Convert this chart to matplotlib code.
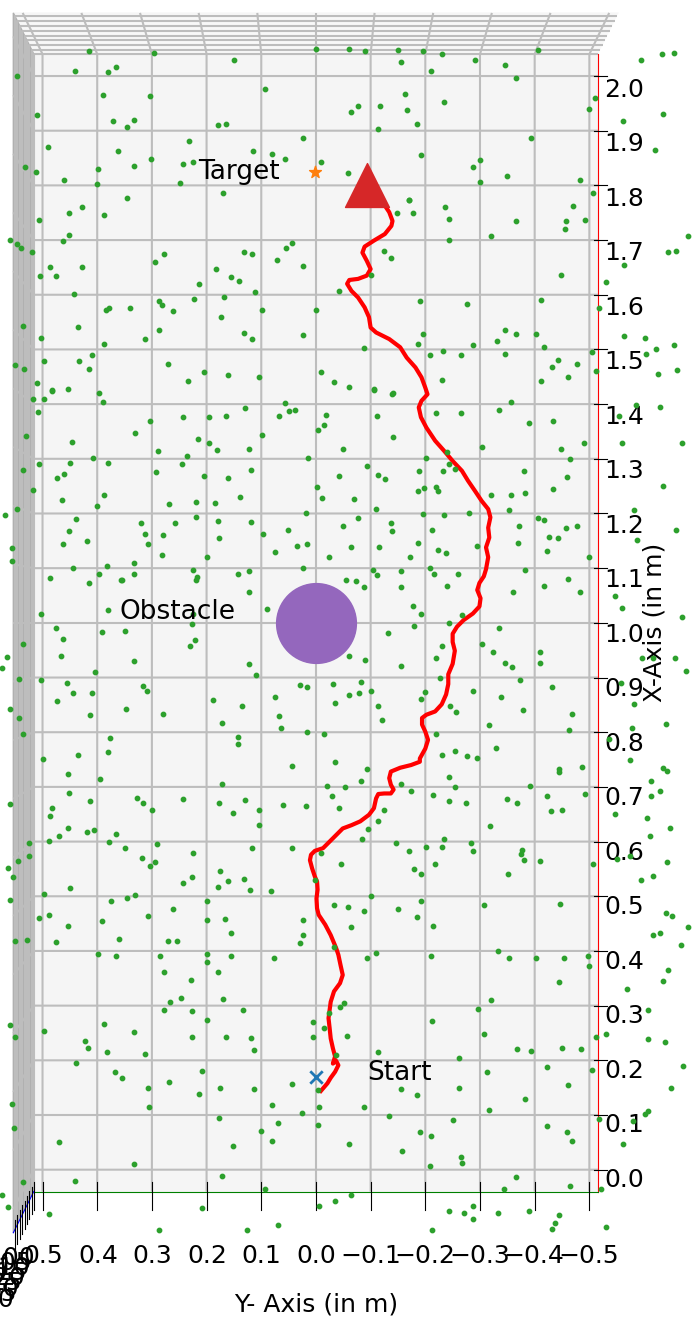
import numpy as np
import matplotlib.pyplot as plt

# robot path (x = forward, y = lateral, in m)
path_x = [0.144, 0.158, 0.168, 0.179, 0.191, 0.199, 0.194, 0.207, 0.222, 0.24, 0.259, 0.277, 0.292,
          0.307, 0.326, 0.341, 0.356, 0.374, 0.393, 0.405, 0.429, 0.448, 0.466, 0.478, 0.496, 0.512,
          0.527, 0.536, 0.551, 0.566, 0.576, 0.583, 0.588, 0.6, 0.612, 0.624, 0.63, 0.637, 0.649,
          0.661, 0.679, 0.687, 0.688, 0.688, 0.695, 0.704, 0.716, 0.728, 0.735, 0.74, 0.746, 0.752,
          0.77, 0.786, 0.801, 0.814, 0.826, 0.832, 0.838, 0.851, 0.869, 0.888, 0.906, 0.925, 0.949,
          0.965, 0.98, 0.993, 1.005, 1.017, 1.03, 1.045, 1.06, 1.073, 1.085, 1.098, 1.12, 1.138,
          1.156, 1.174, 1.193, 1.208, 1.223, 1.241, 1.26, 1.278, 1.296, 1.315, 1.333, 1.357, 1.376,
          1.394, 1.406, 1.418, 1.43, 1.449, 1.467, 1.485, 1.504, 1.519, 1.531, 1.54, 1.559, 1.577,
          1.595, 1.607, 1.62, 1.627, 1.629, 1.635, 1.647, 1.662, 1.677, 1.688, 1.699, 1.711, 1.726,
          1.735, 1.751, 1.763, 1.775]
path_y = [-0.009, -0.021, -0.027, -0.035, -0.041, -0.037, -0.031, -0.035, -0.031, -0.027, -0.025,
          -0.023, -0.025, -0.027, -0.033, -0.044, -0.049, -0.045, -0.041, -0.037, -0.027, -0.017,
          -0.005, -0.002, -0.001, -0.003, -0.002, 0.002, 0.007, 0.011, 0.009, 0.002, -0.013, -0.025,
          -0.037, -0.049, -0.065, -0.081, -0.097, -0.106, -0.11, -0.114, -0.125, -0.137, -0.142,
          -0.137, -0.134, -0.137, -0.154, -0.174, -0.19, -0.19, -0.2, -0.205, -0.2, -0.194, -0.194,
          -0.202, -0.218, -0.23, -0.238, -0.242, -0.242, -0.25, -0.254, -0.25, -0.25, -0.258, -0.27,
          -0.287, -0.299, -0.301, -0.295, -0.299, -0.307, -0.311, -0.315, -0.311, -0.317, -0.315,
          -0.319, -0.315, -0.303, -0.291, -0.278, -0.267, -0.25, -0.234, -0.218, -0.202, -0.192,
          -0.188, -0.193, -0.204, -0.2, -0.193, -0.182, -0.166, -0.154, -0.134, -0.11, -0.1, -0.097,
          -0.089, -0.077, -0.065, -0.057, -0.061, -0.077, -0.093, -0.1, -0.093, -0.085, -0.089,
          -0.106, -0.126, -0.138, -0.14, -0.134, -0.126, -0.12]

start = (0.17, 0.0)
target = (1.824, 0.002)
goal = (1.80, -0.093)
obstacle = (1.0, 0.0)

# scattered particles (x, y), grouped by band of the map
dots_top = [(2.046, 0.415), (2.042, 0.297), (2.03, 0.15), (2.05, 0.0), (2.05, -0.06), (2.045, -0.09),
            (2.047, -0.15), (2.045, -0.195), (2.04, -0.23), (2.025, -0.156), (2.03, -0.29),
            (2.02, -0.346), (2.047, -0.406), (2.01, -0.21), (1.997, -0.366), (2.03, -0.595),
            (2.04, -0.633), (2.042, -0.655), (2.0, 0.547), (2.01, 0.44), (2.007, 0.38), (2.016, 0.365),
            (1.965, 0.39), (1.963, 0.304), (1.976, 0.093), (1.967, -0.163), (1.945, -0.076),
            (1.934, -0.064), (1.945, -0.118), (1.938, -0.167), (1.952, -0.234), (1.94, -0.5),
            (1.96, -0.51), (1.93, -0.634), (1.918, -0.562), (1.929, 0.51), (1.917, 0.371),
            (1.92, 0.333), (1.907, 0.346), (1.911, 0.179), (1.912, 0.165), (1.904, -0.114),
            (1.913, -0.184), (1.887, 0.023), (1.887, -0.393), (1.882, 0.232), (1.87, 0.49),
            (1.863, 0.362), (1.863, 0.116), (1.858, 0.08), (1.849, 0.056), (1.849, 0.302),
            (1.835, 0.332), (1.839, 0.244), (1.842, 0.224), (1.855, -0.192), (1.846, -0.3),
            (1.834, -0.288), (1.864, -0.62), (1.833, 0.532), (1.824, 0.512), (1.83, 0.398),
            (1.81, 0.46), (1.802, 0.4), (1.804, 0.249), (1.786, 0.17), (1.843, -0.01), (1.823, -0.058),
            (1.818, -0.35), (1.806, -0.3), (1.81, -0.482), (1.774, -0.17), (1.786, -0.507),
            (1.777, 0.345), (1.824, 0.002)]
dots_upper = [(1.749, 0.452), (1.761, 0.428), (1.745, 0.388), (1.737, 0.507), (1.709, 0.452),
              (1.698, 0.463), (1.7, 0.56), (1.693, 0.546), (1.685, 0.54), (1.679, 0.52), (1.749, -0.148),
              (1.749, -0.177), (1.773, -0.171), (1.76, -0.236), (1.739, -0.243), (1.734, -0.366),
              (1.735, -0.457), (1.763, -0.47), (1.72, -0.455), (1.737, -0.492), (1.708, -0.32),
              (1.701, -0.243), (1.707, -0.68), (1.679, -0.643), (1.68, -0.658), (1.655, -0.563),
              (1.68, -0.124), (1.668, -0.138), (1.636, -0.1), (1.695, 0.043), (1.685, 0.054),
              (1.663, 0.072), (1.652, 0.024), (1.679, 0.131), (1.674, 0.117), (1.648, 0.183),
              (1.632, 0.156), (1.625, 0.141), (1.619, 0.213), (1.675, 0.278), (1.659, 0.294),
              (1.65, 0.428), (1.65, 0.487), (1.634, 0.475), (1.634, 0.504), (1.601, 0.443),
              (1.605, 0.112), (1.595, 0.169), (1.592, 0.223), (1.606, -0.043), (1.636, -0.448),
              (1.624, -0.53), (1.59, -0.412), (1.588, -0.19), (1.583, -0.276), (1.588, 0.287),
              (1.582, 0.282), (1.57, 0.261), (1.576, 0.379), (1.573, 0.384), (1.576, 0.34),
              (1.573, 0.098), (1.572, 0.0), (1.559, 0.173), (1.576, -0.517), (1.543, 0.536),
              (1.541, 0.435), (1.536, 0.287), (1.519, 0.312), (1.53, 0.131), (1.519, 0.117),
              (1.526, 0.024), (1.52, 0.502), (1.51, 0.387), (1.529, -0.195), (1.51, -0.187),
              (1.502, -0.088), (1.535, -0.345), (1.529, -0.366), (1.516, -0.332), (1.528, -0.402),
              (1.505, -0.417), (1.508, -0.288), (1.524, -0.563), (1.52, -0.602), (1.508, -0.655),
              (1.501, -0.622), (1.495, -0.504), (1.492, -0.603), (1.49, -0.208), (1.498, -0.232),
              (1.49, -0.265), (1.492, -0.346), (1.49, 0.41), (1.479, 0.433), (1.478, 0.497),
              (1.465, 0.415), (1.474, 0.27), (1.471, 0.551), (1.464, 0.534), (1.459, 0.205),
              (1.454, 0.16), (1.449, 0.104), (1.459, -0.009), (1.48, -0.443), (1.467, -0.431),
              (1.474, -0.478), (1.449, -0.461), (1.461, -0.512), (1.455, -0.625), (1.463, -0.661),
              (1.445, -0.23), (1.442, -0.412), (1.441, -0.033), (1.432, -0.061), (1.426, -0.106),
              (1.42, -0.14), (1.443, 0.234), (1.427, 0.454), (1.426, 0.482), (1.438, 0.51)]
dots_mid_upper = [(1.424, 0.482), (1.409, 0.518), (1.409, 0.497), (1.42, 0.396), (1.403, 0.39),
                  (1.386, 0.508), (1.393, 0.13), (1.402, 0.057), (1.387, 0.05), (1.39, 0.039),
                  (1.379, 0.067), (1.381, -0.019), (1.427, -0.107), (1.418, -0.139), (1.379, -0.111),
                  (1.384, -0.22), (1.384, -0.265), (1.39, -0.334), (1.403, -0.357), (1.398, -0.585),
                  (1.395, -0.63), (1.379, -0.555), (1.365, -0.389), (1.369, -0.434), (1.329, -0.49),
                  (1.328, -0.56), (1.328, -0.67), (1.369, 0.304), (1.376, 0.244), (1.376, 0.195),
                  (1.379, 0.164), (1.362, -0.014), (1.353, -0.003), (1.344, 0.099), (1.348, 0.33),
                  (1.33, 0.446), (1.342, 0.531), (1.337, 0.216), (1.329, 0.196), (1.316, 0.181),
                  (1.315, 0.289), (1.318, 0.122), (1.318, -0.05), (1.34, -0.14), (1.321, -0.303),
                  (1.318, -0.448), (1.313, -0.24), (1.306, 0.235), (1.302, 0.408), (1.301, 0.015),
                  (1.301, -0.202), (1.29, 0.506), (1.292, 0.45), (1.292, 0.38), (1.29, 0.245),
                  (1.3, -0.464), (1.287, -0.093), (1.291, -0.244), (1.282, -0.254), (1.277, -0.233),
                  (1.278, -0.188), (1.279, 0.535), (1.272, 0.46), (1.265, 0.474), (1.276, 0.293),
                  (1.268, 0.205), (1.264, 0.16), (1.28, 0.119), (1.268, -0.043), (1.27, -0.114),
                  (1.263, -0.126), (1.277, -0.381), (1.266, -0.459), (1.251, -0.634), (1.243, 0.517),
                  (1.234, 0.387), (1.225, 0.464), (1.213, 0.4), (1.217, 0.268), (1.221, 0.22),
                  (1.219, 0.184), (1.231, 0.139), (1.248, -0.002), (1.228, -0.011), (1.226, -0.07),
                  (1.209, -0.109), (1.241, -0.187), (1.246, -0.198), (1.249, -0.219), (1.241, -0.224),
                  (1.234, -0.321), (1.234, -0.357), (1.238, -0.382), (1.244, -0.433), (1.207, -0.353),
                  (1.207, -0.582), (1.209, 0.547), (1.197, 0.568), (1.201, 0.019), (1.192, -0.076),
                  (1.199, -0.195), (1.198, -0.234), (1.2, -0.28), (1.189, 0.439), (1.182, 0.32),
                  (1.182, 0.258), (1.193, 0.22), (1.187, 0.18), (1.185, 0.118), (1.17, 0.052),
                  (1.177, -0.049), (1.183, -0.137), (1.168, -0.139), (1.17, -0.213), (1.177, -0.371),
                  (1.192, -0.406), (1.188, -0.417), (1.173, -0.457), (1.177, -0.477), (1.169, -0.658),
                  (1.168, 0.451), (1.163, 0.312), (1.16, 0.279), (1.155, 0.177), (1.162, 0.097),
                  (1.157, -0.427), (1.155, -0.442), (1.151, -0.588), (1.145, 0.462), (1.149, 0.418),
                  (1.144, 0.307), (1.141, 0.034), (1.145, 0.017), (1.139, -0.064), (1.146, -0.187),
                  (1.134, -0.223), (1.141, -0.294), (1.146, -0.37), (1.132, -0.422), (1.138, -0.115),
                  (1.136, 0.556), (1.124, 0.281), (1.121, 0.2), (1.129, 0.075), (1.121, -0.023),
                  (1.12, -0.172), (1.127, -0.238), (1.12, -0.5), (1.114, 0.555), (1.11, 0.333),
                  (1.101, 0.445), (1.104, 0.383), (1.09, 0.396), (1.09, 0.332), (1.096, 0.225),
                  (1.084, 0.218), (1.09, 0.143), (1.095, 0.122), (1.101, 0.023), (1.097, -0.104),
                  (1.087, -0.112), (1.095, -0.156), (1.101, -0.209), (1.089, -0.216), (1.09, -0.259),
                  (1.096, -0.382), (1.081, -0.461), (1.079, 0.357), (1.082, 0.486)]
dots_mid = [(1.073, 0.415), (1.078, 0.355), (1.079, 0.22), (1.056, 0.123), (1.078, -0.055),
            (1.077, -0.074), (1.065, -0.087), (1.065, -0.156), (1.067, -0.24), (1.057, -0.36),
            (1.068, -0.417), (1.056, -0.483), (1.05, -0.546), (1.027, -0.559), (1.01, -0.67),
            (1.017, 0.502), (1.023, 0.38), (1.025, 0.089), (1.03, -0.177), (1.017, -0.192),
            (1.015, -0.268), (0.999, -0.243), (1.017, 0.224), (0.997, 0.226), (0.991, 0.475),
            (0.986, 0.35), (0.983, 0.392), (0.971, 0.463), (0.962, 0.536), (0.968, 0.221),
            (0.957, 0.23), (0.981, -0.132), (0.994, -0.179), (0.99, -0.334), (0.962, -0.304),
            (0.957, -0.231), (0.936, -0.22), (0.946, -0.323), (0.946, -0.409), (0.926, -0.409),
            (0.927, -0.345), (0.92, -0.359), (0.936, -0.596), (0.936, -0.617), (0.936, -0.657),
            (0.912, -0.677), (0.938, 0.565), (0.918, 0.575), (0.939, 0.466), (0.93, 0.333),
            (0.924, 0.123), (0.904, 0.11), (0.94, -0.06), (0.932, -0.09), (0.922, -0.156),
            (0.911, 0.404), (0.898, 0.543), (0.896, 0.503), (0.89, 0.455), (0.871, 0.445),
            (0.872, 0.41), (0.884, 0.317), (0.876, 0.309), (0.9, -0.226), (0.875, -0.288),
            (0.865, -0.339), (0.895, -0.374), (0.883, -0.431), (0.89, -0.558), (0.852, -0.581),
            (0.886, 0.03), (0.883, 0.016), (0.888, -0.032), (0.892, -0.083), (0.868, -0.061),
            (0.872, -0.079), (0.875, -0.1), (0.874, -0.199), (0.86, -0.192), (0.865, 0.074),
            (0.859, 0.188), (0.848, 0.135), (0.857, 0.474), (0.843, 0.56), (0.826, 0.543),
            (0.832, 0.413), (0.842, 0.348), (0.833, 0.279), (0.829, 0.067), (0.854, -0.035),
            (0.848, -0.113), (0.823, -0.121), (0.848, -0.246), (0.837, -0.256), (0.84, -0.378),
            (0.834, -0.468), (0.813, -0.317), (0.804, -0.463), (0.807, -0.578), (0.815, -0.641),
            (0.816, 0.171), (0.807, 0.063), (0.801, 0.016), (0.796, -0.014), (0.796, 0.536),
            (0.796, -0.219), (0.788, -0.536), (0.792, 0.143), (0.778, 0.142), (0.789, 0.376),
            (0.764, 0.381), (0.759, 0.435), (0.751, 0.5), (0.758, -0.231), (0.766, -0.255),
            (0.756, -0.277), (0.753, -0.295), (0.771, -0.329), (0.745, -0.034), (0.738, 0.043),
            (0.733, -0.093), (0.733, -0.445), (0.737, -0.486), (0.735, -0.634), (0.75, -0.575)]
dots_mid_lower = [(0.724, 0.454), (0.715, 0.395), (0.705, 0.171), (0.701, -0.021), (0.7, -0.053),
                  (0.71, -0.082), (0.705, -0.155), (0.719, -0.243), (0.699, -0.254), (0.701, -0.391),
                  (0.728, -0.445), (0.729, -0.642), (0.71, -0.612), (0.693, -0.63), (0.683, -0.613),
                  (0.651, -0.547), (0.643, -0.605), (0.624, -0.648), (0.611, -0.611), (0.563, -0.642),
                  (0.573, -0.574), (0.529, -0.594), (0.537, -0.616), (0.687, -0.492), (0.683, -0.422),
                  (0.656, -0.43), (0.658, -0.45), (0.678, -0.35), (0.67, -0.368), (0.629, -0.318),
                  (0.67, -0.275), (0.675, -0.243), (0.686, -0.214), (0.693, -0.174), (0.684, -0.029),
                  (0.661, -0.043), (0.658, -0.125), (0.638, -0.114), (0.623, -0.095), (0.605, -0.084),
                  (0.665, 0.019), (0.666, 0.061), (0.657, 0.104), (0.63, 0.105), (0.676, 0.13),
                  (0.653, 0.151), (0.67, 0.178), (0.677, 0.244), (0.658, 0.3), (0.67, 0.317),
                  (0.679, 0.327), (0.675, 0.413), (0.688, 0.452), (0.662, 0.482), (0.646, 0.487),
                  (0.669, 0.56), (0.624, 0.454), (0.611, 0.47), (0.617, 0.419), (0.621, 0.405),
                  (0.614, 0.366), (0.601, 0.489), (0.598, 0.524), (0.599, 0.379), (0.589, 0.35),
                  (0.596, 0.29), (0.579, 0.225), (0.588, 0.117), (0.588, 0.044), (0.58, -0.009),
                  (0.598, -0.147), (0.582, -0.17), (0.591, -0.202), (0.604, -0.234), (0.59, -0.231),
                  (0.597, -0.283), (0.582, -0.288), (0.585, -0.377), (0.577, -0.375), (0.566, -0.38),
                  (0.565, -0.409), (0.559, -0.506), (0.568, -0.55), (0.574, 0.524), (0.565, 0.544),
                  (0.552, 0.564), (0.535, 0.554), (0.57, 0.319), (0.563, 0.295), (0.556, 0.304),
                  (0.559, -0.046), (0.559, -0.218), (0.55, -0.179), (0.54, -0.192), (0.54, -0.352),
                  (0.547, 0.175), (0.535, 0.226), (0.525, 0.244), (0.528, 0.161), (0.532, 0.132),
                  (0.517, 0.18), (0.512, 0.12), (0.509, 0.082), (0.529, 0.002), (0.516, 0.449),
                  (0.504, 0.498), (0.493, 0.559), (0.491, 0.374), (0.496, 0.345), (0.503, 0.331),
                  (0.476, 0.261), (0.492, 0.2), (0.5, -0.1), (0.491, -0.193), (0.484, -0.033),
                  (0.48, -0.058), (0.473, -0.087), (0.476, -0.15), (0.462, -0.185), (0.484, -0.308),
                  (0.485, -0.446), (0.469, -0.64), (0.464, -0.652), (0.443, -0.68), (0.465, 0.488),
                  (0.46, 0.507), (0.455, 0.391), (0.464, 0.308), (0.457, 0.2), (0.458, 0.166),
                  (0.457, 0.023), (0.445, 0.453), (0.432, 0.155), (0.429, 0.024), (0.415, 0.029),
                  (0.443, -0.064), (0.446, -0.214), (0.429, -0.617), (0.432, -0.629), (0.411, -0.667),
                  (0.418, 0.55), (0.42, 0.529), (0.416, 0.475), (0.421, 0.361), (0.419, 0.27),
                  (0.419, 0.255), (0.407, -0.033), (0.397, -0.11), (0.4, -0.333), (0.394, 0.398),
                  (0.391, 0.366), (0.391, 0.285), (0.395, 0.2), (0.39, 0.156), (0.388, 0.076),
                  (0.388, -0.093), (0.391, -0.211), (0.387, -0.353), (0.387, -0.402), (0.387, -0.454),
                  (0.39, -0.497)]
dots_lower = [(0.362, 0.277), (0.361, 0.18), (0.379, 0.2), (0.346, 0.229), (0.373, -0.5),
              (0.366, -0.643), (0.345, -0.635), (0.33, -0.568), (0.344, -0.445), (0.31, -0.32),
              (0.314, 0.247), (0.307, 0.266), (0.313, 0.17), (0.292, 0.277), (0.29, 0.226),
              (0.292, 0.134), (0.274, 0.199), (0.266, 0.388), (0.254, 0.497), (0.265, 0.56),
              (0.243, 0.55), (0.252, 0.332), (0.242, 0.227), (0.243, 0.164), (0.24, 0.118),
              (0.236, 0.423), (0.222, 0.417), (0.218, 0.114), (0.215, 0.382), (0.212, 0.312),
              (0.195, 0.438), (0.27, 0.006), (0.243, 0.006), (0.245, -0.056), (0.298, -0.044),
              (0.304, -0.051), (0.287, -0.024), (0.259, -0.014), (0.209, -0.036), (0.216, -0.113),
              (0.272, -0.212), (0.294, -0.296), (0.249, -0.308), (0.22, -0.368), (0.217, -0.394),
              (0.222, -0.45), (0.221, -0.484), (0.243, -0.513), (0.248, -0.53), (0.239, -0.607),
              (0.234, -0.639), (0.292, -0.607), (0.205, -0.262), (0.187, -0.422), (0.179, -0.313),
              (0.183, -0.504), (0.189, -0.671), (0.15, -0.65), (0.154, -0.461), (0.13, -0.383),
              (0.15, -0.262), (0.137, -0.184), (0.147, -0.155), (0.115, -0.087), (0.115, -0.006),
              (0.104, 0.026), (0.118, 0.081), (0.157, 0.043), (0.146, -0.003), (0.148, 0.114),
              (0.149, 0.175), (0.138, 0.213), (0.181, 0.209), (0.16, 0.269), (0.15, 0.308),
              (0.115, 0.305), (0.167, 0.354), (0.179, 0.367), (0.121, 0.555), (0.076, 0.552),
              (0.094, 0.177), (0.086, 0.069), (0.071, 0.1), (0.081, -0.003), (0.098, -0.134),
              (0.09, -0.25), (0.109, -0.316), (0.08, -0.422), (0.092, -0.518), (0.101, -0.602),
              (0.108, -0.608), (0.089, -0.579), (0.069, -0.459), (0.053, -0.469), (0.047, -0.562),
              (0.068, -0.191), (0.061, -0.21), (0.034, -0.158), (0.023, -0.265), (0.047, -0.061),
              (0.052, 0.081), (0.044, 0.151), (0.05, 0.47)]
dots_bottom = [(0.011, 0.332), (-0.011, 0.171), (0.006, -0.208), (0.012, -0.267), (-0.02, 0.44),
               (-0.023, 0.535), (-0.013, -0.366), (-0.036, -0.343), (-0.03, -0.465), (-0.036, -0.521),
               (-0.035, 0.094), (-0.047, 0.575), (-0.068, 0.564), (-0.081, 0.489), (-0.07, 0.209),
               (-0.066, -0.005), (-0.057, -0.035), (-0.046, -0.064), (-0.076, -0.243), (-0.08, -0.27),
               (-0.067, -0.287), (-0.091, -0.288), (-0.08, -0.333), (-0.076, -0.39), (-0.083, -0.444),
               (-0.097, -0.437), (-0.109, -0.432), (-0.104, -0.531), (-0.102, 0.07), (-0.11, -0.213),
               (-0.11, 0.126), (-0.11, 0.287)]

dots = np.array(dots_top + dots_upper + dots_mid_upper + dots_mid + dots_mid_lower
                + dots_lower + dots_bottom)

plt.rcParams['grid.linewidth'] = 1.5
plt.rcParams['grid.color'] = '#bdbdbd'

fig = plt.figure(figsize=(6.92, 13.24), dpi=100)
ax = fig.add_axes([-0.021, 0.033, 0.93, 0.98], projection='3d')

ax.scatter(dots[:, 0], dots[:, 1], 0, s=10, c='C2', depthshade=False, clip_on=False)
ax.plot(path_x, path_y, 0, color='red', lw=3, clip_on=False)
ax.scatter(*start, 0, marker='x', c='C0', s=80, linewidths=2, depthshade=False, clip_on=False)
ax.scatter(*target, 0, marker='*', c='C1', s=80, depthshade=False, clip_on=False)
ax.scatter(*goal, 0, marker='^', c='C3', s=1000, depthshade=False, clip_on=False)
ax.scatter(*obstacle, 0, marker='o', c='C4', s=3300, depthshade=False, clip_on=False)

ax.text(1.824, 0.216, 0, 'Target', fontsize=19, va='center')
ax.text(1.02, 0.36, 0, 'Obstacle', fontsize=19, va='center')
ax.text(0.176, -0.093, 0, 'Start', fontsize=19, va='center')

ax.set_xlim(-0.04, 2.04)
ax.set_ylim(-0.516, 0.516)
ax.set_zlim(0, 0.43)
ax.set_box_aspect((2.08, 1.032, 0.43), zoom=2.016)
ax.view_init(elev=90, azim=180)

ax.set_xticks(np.arange(0, 2.01, 0.1))
ax.set_yticks(np.arange(-0.5, 0.51, 0.1))
ax.set_zticks(np.arange(0, 0.431, 0.05))
ax.tick_params(labelsize=18)
ax.set_xlabel('X-Axis (in m)', fontsize=18)
ax.set_ylabel('Y- Axis (in m)', fontsize=18)

ax.yaxis.set_pane_color((0.69, 0.69, 0.69, 1.0))
ax.xaxis.line.set_color('red')
ax.yaxis.line.set_color('green')
ax.zaxis.line.set_color('blue')

fig.savefig('out.png', dpi=100)
